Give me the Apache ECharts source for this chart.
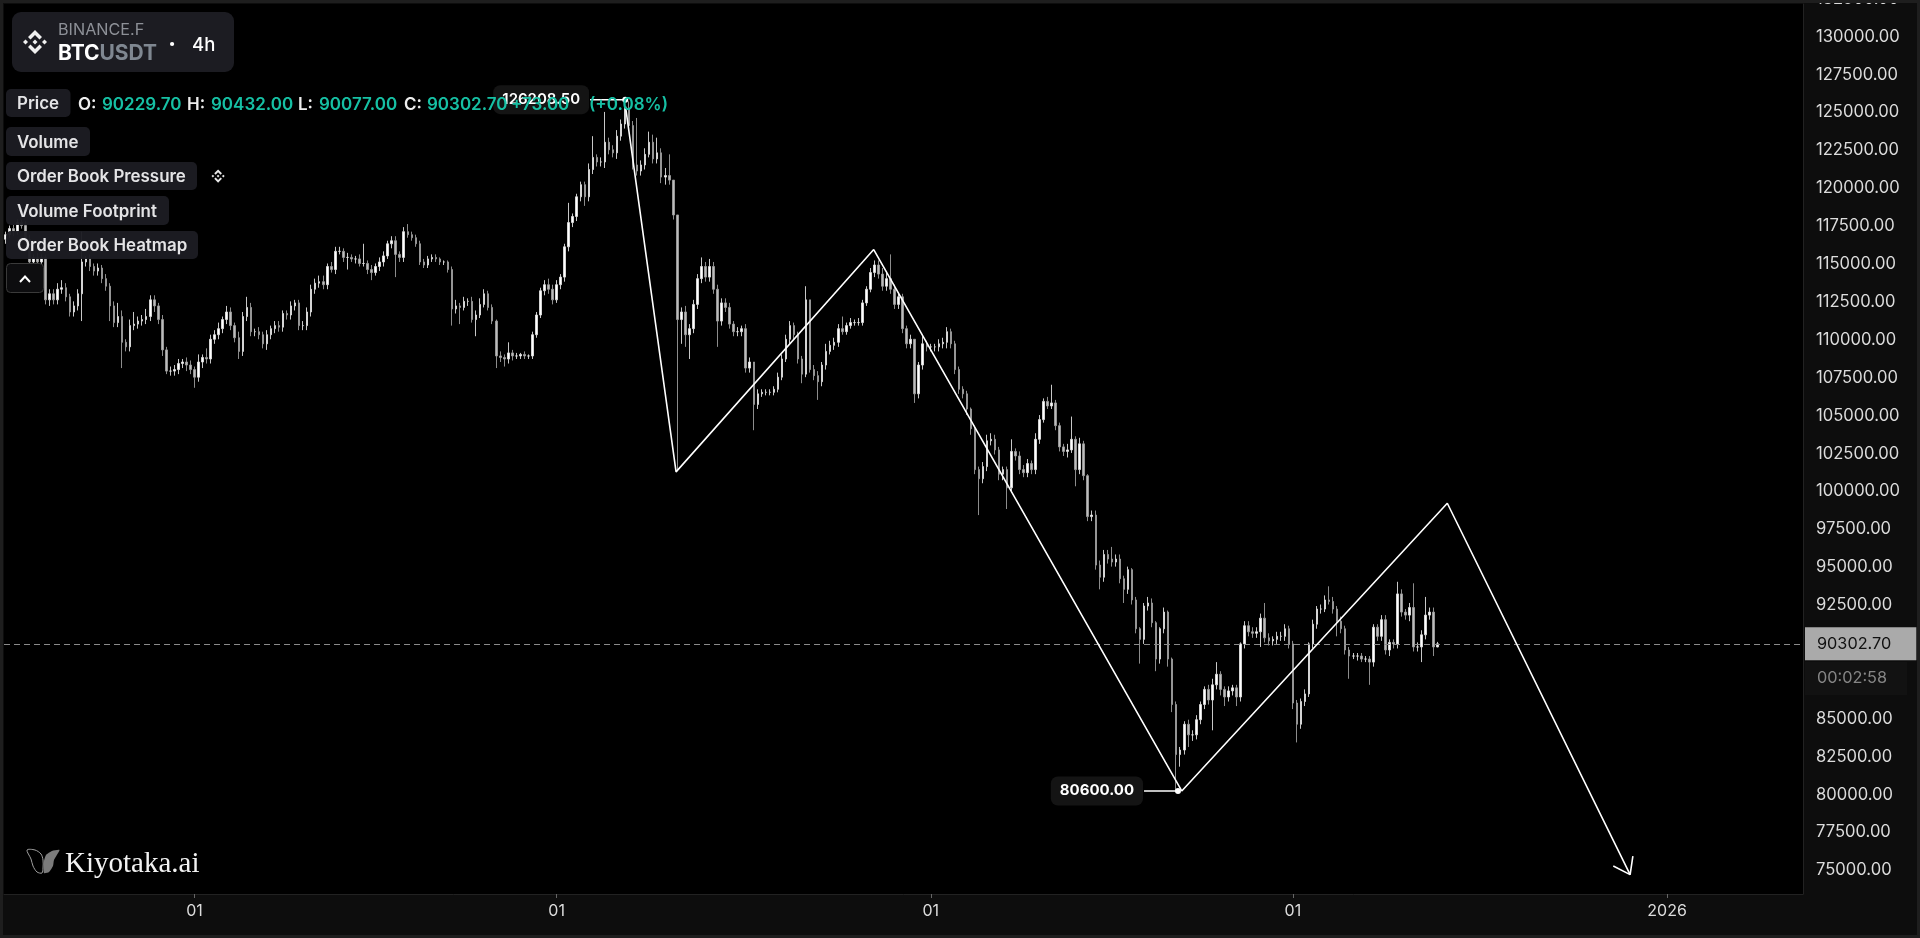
<!DOCTYPE html>
<html><head><meta charset="utf-8">
<style>html,body{margin:0;padding:0;background:#0d0d0d}#c{width:1920px;height:938px}</style>
<script src="https://cdn.jsdelivr.net/npm/echarts@6/dist/echarts.min.js"></script>
</head><body><div id="c"></div>
<script>
// prices below are in hundreds of USD, one candle every 8 hours
const PRICE_UNIT = 100;
const firstCandle = '2025-08-16T08:00:00';
const firstOpen = 1170;
const closes = [
1173,1177,1175,1181,1179,1170,1155,1158,1155,1158,
1130,1134,1130,1137,1138,1132,1122,1126,1134,1155,
1157,1152,1149,1151,1144,1139,1126,1115,1119,1102,
1099,1113,1114,1116,1117,1119,1130,1126,1117,1097,
1083,1083,1084,1088,1089,1087,1084,1079,1089,1092,
1091,1104,1107,1111,1117,1122,1113,1105,1096,1119,
1125,1109,1109,1107,1101,1107,1111,1113,1112,1121,
1120,1126,1128,1113,1113,1122,1137,1141,1142,1140,
1152,1150,1162,1162,1158,1158,1157,1157,1154,1154,
1150,1148,1152,1155,1159,1167,1169,1160,1158,1175,
1173,1171,1167,1155,1153,1157,1158,1157,1155,1155,
1150,1124,1126,1125,1129,1129,1117,1120,1127,1134,
1125,1116,1093,1092,1091,1095,1093,1093,1094,1093,
1093,1107,1120,1136,1140,1137,1130,1140,1145,1165,
1181,1185,1198,1206,1198,1216,1224,1221,1221,1234,
1229,1227,1238,1246,1256,1245,1219,1215,1219,1226,
1234,1223,1227,1211,1212,1209,1186,1117,1122,1107,
1111,1127,1144,1152,1145,1152,1137,1116,1128,1125,
1114,1109,1109,1111,1085,1089,1061,1068,1069,1069,
1069,1071,1079,1091,1104,1113,1107,1091,1081,1130,
1084,1080,1076,1087,1096,1100,1102,1111,1109,1113,
1115,1115,1115,1128,1137,1148,1153,1147,1139,1144,
1137,1127,1132,1111,1101,1104,1068,1087,1101,1099,
1099,1099,1101,1102,1109,1101,1084,1071,1068,1058,
1045,1018,1012,1020,1037,1038,1031,1015,1018,1006,
1030,1027,1018,1016,1022,1018,1038,1051,1063,1060,
1062,1047,1033,1030,1031,1038,1018,1035,1014,987,
988,955,947,962,959,957,959,946,939,952,
932,913,906,928,930,917,893,913,924,893,
863,830,833,850,843,843,853,863,873,866,
876,883,873,868,872,874,868,903,915,911,
910,911,920,907,905,906,908,908,913,903,
864,850,865,870,903,916,926,926,932,931,
926,918,913,899,895,895,895,893,893,891,
914,908,919,899,904,903,936,924,922,927,
901,901,909,922,924,901,903.027];
const upperWicks = [
2,2,3,2,2,3,3,2,3,2,
2,3,3,4,5,3,2,3,3,20,
2,3,2,3,2,3,2,3,9,4,
2,4,8,3,3,5,3,3,2,3,
2,3,3,3,2,3,3,2,5,2,
6,3,3,4,2,4,3,2,4,3,
7,3,2,3,2,3,2,3,3,2,
2,3,2,2,3,3,3,3,4,4,
2,3,3,3,2,3,2,2,3,13,
2,3,2,3,3,2,3,3,2,3,
5,2,2,2,2,2,2,2,1,1,
1,2,4,2,3,2,3,3,4,3,
2,2,1,3,2,7,2,2,1,2,
1,2,2,2,3,4,3,3,2,2,
13,2,2,2,2,4,14,2,3,20,
3,3,4,3,6.085,5,3,31,3,4,
7,5,10,3,5,14,0,0,3,4,
3,3,3,6,3,5,3,3,3,3,
3,2,3,2,3,3,0,3,2,2,
2,2,3,3,3,3,2,2,2,9,
0,3,3,2,5,3,3,3,8,2,
3,2,3,2,2,3,3,3,4,4,
16,3,3,2,2,3,0,2,5,2,
2,2,3,3,3,2,2,2,2,2,
1,2,2,3,4,4,3,2,2,2,
8,2,3,3,3,2,4,3,2,3,
12,2,2,2,4,15,2,4,2,1,
3,3,3,3,3,8,3,3,2,2,
1,2,1,2,4,3,1,1,3,1,
1,2,2,2,3,3,3,2,2,3,
4,8,2,2,3,2,2,1,3,3,
3,3,3,10,3,2,3,3,3,2,
2,2,2,3,1,3,2,3,3,9,
3,2,3,2,2,2,2,2,2,2,
2,2,3,3,2,2,8,3,2,3,
16,3,3,12,3,3,1.293];
const lowerWicks = [
3,2,3,2,2,2,3,3,3,3,
3,4,3,3,3,3,3,3,3,18,
3,3,3,3,3,3,10,3,3,17,
3,3,3,3,3,3,3,4,3,4,
2,3,3,3,3,4,3,7,3,4,
3,3,3,3,3,3,3,3,5,3,
3,3,3,3,3,4,3,3,3,3,
3,3,3,3,3,3,3,3,3,3,
3,2,3,2,3,8,2,3,2,2,
3,5,2,3,3,2,3,15,3,3,
2,2,2,2,2,2,2,2,2,2,
2,11,3,11,2,3,2,11,2,2,
2,2,8,3,5,3,3,2,2,2,
2,2,2,2,3,3,3,2,3,3,
3,3,3,3,6,3,3,3,3,4,
3,3,4,3,3,3,3,3,3,3,
2,3,3,4,5,3,3,100,16,8,
16,3,3,3,3,3,3,17,3,3,
3,3,3,3,3,3,17,3,2,2,
2,2,2,2,2,3,3,3,6,2,
2,3,12,3,3,2,3,3,2,2,
2,2,2,2,2,2,3,3,3,3,
3,3,3,3,3,3,6,3,3,3,
3,3,3,3,4,3,3,3,3,4,
4,3,24,3,3,3,3,4,4,14,
3,3,3,3,3,3,3,3,2,2,
2,3,3,3,4,2,11,3,3,3,
3,3,8,3,3,3,3,3,9,3,
3,3,16,3,3,3,8,3,3,5,
5,24,8,3,8,4,3,3,3,3,
20,3,4,6,3,3,6,3,3,3,
3,3,10,3,3,3,3,3,3,3,
4,12,3,3,2,3,3,3,2,2,
3,10,3,3,15,2,3,2,2,15,
3,3,3,3,4,3,3,3,3,4,
3,3,10,3,3,6,0.23];

const drawingTimes  = ['2025-10-06T17:00','2025-10-10T21:30','2025-10-27T06:30','2025-11-21T19:00','2025-12-13T19:00','2025-12-28T22:30'];
const drawingPrices = [125750,101650,116320,80600,99580,75080];
const arrowTimes  = ['2025-12-27T13:00','2025-12-28T22:30','2025-12-29T04:00'];
const arrowPrices = [75650,75080,76300];
const lowLabelTimes = ['2025-11-18T16:00','2025-11-21T11:30'];
const lowLabelPrice = 80600;
const highLabelTimes = ['2025-10-03T18:30','2025-10-06T16:30'];
const highLabelPrice = 126208.5;
const lastPrice = 90302.7;
const xTickDates = ['2025-09-01T00:00','2025-10-01T00:00','2025-11-01T00:00','2025-12-01T00:00','2026-01-01T00:00'];
const xTickLabels = ['01','01','01','01','2026'];
const yTicks = [75000,77500,80000,82500,85000,92500,95000,97500,100000,102500,105000,107500,110000,112500,115000,117500,120000,122500,125000,127500,130000,132500];
const legendO = ['90229.70','90432.00','90077.00','90302.70'];

const ms = s => new Date(s).getTime();
const EIGHT_HOURS = 8*3600*1000;
const candles = closes.map((c,i)=>{
  const o = i ? closes[i-1] : firstOpen;
  return [ms(firstCandle)+i*EIGHT_HOURS, o*PRICE_UNIT, c*PRICE_UNIT,
          (Math.min(o,c)-lowerWicks[i])*PRICE_UNIT, (Math.max(o,c)+upperWicks[i])*PRICE_UNIT];
});
const xTickMs = xTickDates.map(ms);
const F = 'Inter, "Noto Sans", sans-serif';
const TEAL = '#16c0a4', PILL = '#1c1c22';

function pill(x,y,w,h,text){
  return [
    {type:'rect',shape:{x,y,width:w,height:h,r:5},style:{fill:PILL,opacity:.96},z:100},
    {type:'text',x:x+11,y:y+h/2+1,style:{text,fill:'#e4e4e6',font:'600 16.9px '+F,verticalAlign:'middle'},z:101}
  ];
}
function t(x,y,text,fill,font){return {type:'text',x,y,style:{text,fill,font:font||('600 17px '+F),verticalAlign:'middle'},z:102};}
const BN_SHAPES = [
  [[12,0],[19,7],[16.5,9.5],[12,5],[7.5,9.5],[5,7]],
  [[12,24],[19,17],[16.5,14.5],[12,19],[7.5,14.5],[5,17]],
  [[0,12],[2.5,9.5],[5,12],[2.5,14.5]],
  [[24,12],[21.5,9.5],[19,12],[21.5,14.5]],
  [[12,9.5],[14.5,12],[12,14.5],[9.5,12]]
];
const icon = (x,y,s,fill)=>BN_SHAPES.map(p=>({type:'polygon',shape:{points:p.map(([a,b])=>[x+a*s,y+b*s])},style:{fill},z:101}));

const overlay = [
  {type:'rect',shape:{x:12,y:12,width:222,height:60,r:9},style:{fill:PILL},z:100},
  ...icon(23,30,1,'#f0f0f0'),
  t(58,30,'BINANCE.F','#8d9097','400 16.2px '+F),
  t(58,54,'BTC','#ffffff','700 21px '+F),
  t(99.5,54,'USDT','#7f8791','700 21px '+F),
  t(169,44,'•','#ffffff','700 13px '+F),
  t(192,45,'4h','#ffffff','500 18.5px '+F),
  ...pill(6,89,64.5,28,'Price'),
  t(78,104.5,'O:','#eeeeee'), t(102,104.5,legendO[0],TEAL),
  t(187,104.5,'H:','#eeeeee'), t(211,104.5,legendO[1],TEAL),
  t(298,104.5,'L:','#eeeeee'), t(319,104.5,legendO[2],TEAL),
  t(404,104.5,'C:','#eeeeee'), t(427,104.5,legendO[3],TEAL),
  t(511,104.5,'+73.00',TEAL), t(589,104.5,'(+0.08%)',TEAL),
  ...pill(6,127,84,29,'Volume'),
  ...pill(6,162,191,28,'Order Book Pressure'),
  ...icon(211.5,169.5,.55,'#e8e8e8'),
  ...pill(6,196,163,29,'Volume Footprint'),
  ...pill(6,231,192,28,'Order Book Heatmap'),
  {type:'rect',shape:{x:6.5,y:263.5,width:37,height:29,r:4},style:{fill:'#0d0d0f',stroke:'#3a3a3a',lineWidth:1},z:100},
  {type:'polyline',shape:{points:[[20,282],[25,276.5],[30,282]]},style:{stroke:'#fff',lineWidth:2,fill:'none'},z:101},
  // logo
  {type:'polygon',shape:{points:[[27,850],[35,850],[41,854],[43,860],[43,868],[42,873],[37,872],[33,866],[31,859]],smooth:.3},style:{fill:'none',stroke:'#a0a0a0',lineWidth:1},z:20},
  {type:'polygon',shape:{points:[[59.5,850],[52,851],[46,855],[44,861],[44,873],[49,872],[53,866],[54,860]],smooth:.2},style:{fill:'#7b7b7b'},z:20},
  {type:'text',x:65,y:864,style:{text:'Kiyotaka.ai',fill:'#f2f2f2',font:'400 29px "Liberation Serif", serif',verticalAlign:'middle'},z:20},
  // countdown under the price tag
  {type:'rect',shape:{x:1805,y:662,width:102,height:33},style:{fill:'#121212'},z:50},
  t(1817,678.5,'00:02:58','#858585','400 16.3px '+F),
  // outer frame
  {type:'rect',shape:{x:1.5,y:1.5,width:1917,height:935},style:{fill:'none',stroke:'#1e1e1e',lineWidth:3},z:200}
];

const chart = echarts.init(document.getElementById('c'),null,{renderer:'canvas'});
const pt = (x,y)=>[ms(x),y];
chart.setOption({
  animation:false,
  backgroundColor:'#0d0d0d',
  textStyle:{fontFamily:F},
  grid:{left:4,right:117,top:4,bottom:44,outerBoundsMode:'none',show:true,backgroundColor:'#000',borderWidth:0},
  xAxis:{type:'value',scale:true,min:ms('2025-08-16T05:12:00'),max:ms('2026-01-12T06:15:00'),
    axisLine:{show:true,onZero:false,lineStyle:{color:'#222',width:1}},
    axisTick:{show:true,customValues:xTickMs,length:4,lineStyle:{color:'#666'}},
    axisLabel:{customValues:xTickMs,color:'#dcdcdc',fontSize:16,margin:9,hideOverlap:false,
      formatter:v=>{const i=xTickMs.indexOf(+v);return i<0?'':xTickLabels[i];}},
    splitLine:{show:false}},
  yAxis:{type:'value',position:'right',min:73800,max:132520,scale:true,
    axisLine:{show:true,onZero:false,lineStyle:{color:'#222',width:1}},
    axisTick:{show:false,customValues:yTicks},
    axisLabel:{customValues:yTicks,color:'#dcdcdc',fontSize:16.6,margin:13,align:'left',verticalAlign:'bottom',lineHeight:11,
      hideOverlap:false,formatter:v=>Number(v).toFixed(2)},
    splitLine:{show:false}},
  series:[
    {type:'candlestick',barWidth:2,clip:true,z:2,
     itemStyle:{color:'#ffffff',color0:'#bcbcbc',borderColor:'#dedede',borderColor0:'#9c9c9c',borderWidth:.9},
     data:candles,encode:{x:0,y:[1,2,3,4]},
     markLine:{silent:true,symbol:'none',animation:false,
       lineStyle:{type:[6,4],color:'#8a8a8a',width:1},
       label:{show:true,position:'end',distance:2,formatter:lastPrice.toFixed(2),backgroundColor:'#aaaaaa',color:'#111',
              fontSize:16.3,fontFamily:F,padding:[8,25,8,12],lineHeight:17},
       data:[{yAxis:lastPrice}]}},
    {type:'line',z:5,symbol:'none',lineStyle:{color:'#fff',width:1.6},
     data:drawingTimes.map((x,i)=>pt(x,drawingPrices[i]))},
    {type:'line',z:5,symbol:'none',lineStyle:{color:'#fff',width:1.6},
     data:arrowTimes.map((x,i)=>pt(x,arrowPrices[i]))},
    ...[[lowLabelTimes,lowLabelPrice,'80600.00',700],[highLabelTimes,highLabelPrice,'126208.50',600]].map(([ts,p,txt,w])=>({
      type:'line',z:6,lineStyle:{color:'#fff',width:1.5},symbol:'circle',showSymbol:true,showAllSymbol:true,
      symbolSize:(v,params)=>params.dataIndex===1?6:0,itemStyle:{color:'#fff'},
      data:[{value:pt(ts[0],p),label:{show:true,position:'left',distance:1,formatter:txt,color:'#fff',fontSize:15,fontWeight:w,fontFamily:F,
             backgroundColor:'#141414',borderRadius:7,padding:[7,9]}},{value:pt(ts[1],p)}]
    }))
  ],
  graphic:{elements:overlay}
});
</script></body></html>
